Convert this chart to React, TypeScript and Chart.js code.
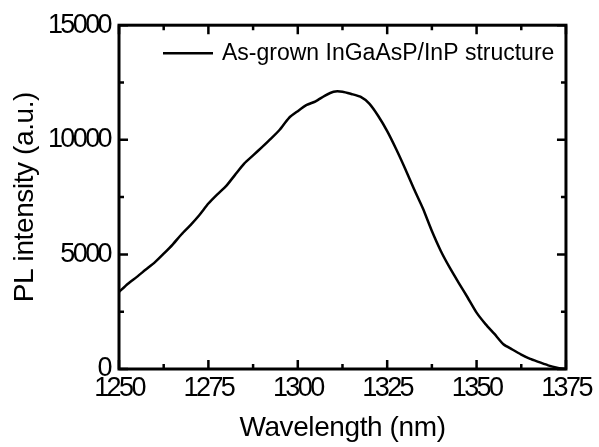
import React, { useEffect, useRef } from "react";
import { Chart, registerables } from "chart.js";

Chart.register(...registerables);

const wavelengths = [
  1250, 1252.5, 1255, 1257.5, 1260, 1262.5, 1265, 1267.5, 1270, 1272.5,
  1275, 1277.5, 1280, 1282.5, 1285, 1287.5, 1290, 1292.5, 1295, 1297.5,
  1300, 1302.5, 1305, 1307.5, 1310, 1312.5, 1315, 1317.5, 1320, 1322.5,
  1325, 1327.5, 1330, 1332.5, 1335, 1337.5, 1340, 1342.5, 1345, 1347.5,
  1350, 1352.5, 1355, 1357.5, 1360, 1362.5, 1365, 1367.5, 1370, 1372.5, 1375,
];
const intensities = [
  3360, 3720, 4020, 4340, 4650, 5030, 5430, 5880, 6280, 6720,
  7220, 7620, 7990, 8480, 8960, 9320, 9680, 10050, 10450, 10950,
  11250, 11520, 11680, 11920, 12100, 12100, 12000, 11880, 11580, 11040,
  10380, 9600, 8750, 7850, 7000, 6020, 5150, 4420, 3760, 3120,
  2460, 1960, 1530, 1080, 850, 630, 440, 300, 160, 60, 0,
];
const seriesLabel = "As-grown InGaAsP/InP structure";
const xTitle = "Wavelength (nm)";
const yTitle = "PL intensity (a.u.)";
const xMin = 1250, xMax = 1375, xStep = 25;
const yMin = 0, yMax = 15000, yStep = 5000;

const FONT = "Arial, 'Liberation Sans', Helvetica, sans-serif";

const framePlugin = {
  id: "frame",
  beforeDraw(chart: any) {
    chart.ctx.letterSpacing = "-0.4px";
  },
  afterDatasetsDraw(chart: any) {
    chart.ctx.letterSpacing = "-2.6px";
  },
  afterDraw(chart: any) {
    const ctx = chart.ctx;
    ctx.save();
    ctx.letterSpacing = "0px";
    const { left, right, top, bottom } = chart.chartArea;
    const xs = chart.scales.x;
    const ys = chart.scales.y;
    ctx.strokeStyle = "#000";
    ctx.lineWidth = 2.5;
    ctx.lineCap = "butt";
    ctx.beginPath();
    for (let v = xMin; v <= xMax + 1e-6; v += xStep / 2) {
      const isMajor = Math.abs((v - xMin) % xStep) < 1e-6;
      const len = isMajor ? 9 : 5;
      const px = xs.getPixelForValue(v);
      ctx.moveTo(px, bottom);
      ctx.lineTo(px, bottom - len);
      ctx.moveTo(px, top);
      ctx.lineTo(px, top + len);
    }
    for (let v = yMin; v <= yMax + 1e-6; v += yStep / 2) {
      const isMajor = Math.abs((v - yMin) % yStep) < 1e-6;
      const len = isMajor ? 9 : 5;
      const py = ys.getPixelForValue(v);
      ctx.moveTo(left, py);
      ctx.lineTo(left + len, py);
      ctx.moveTo(right, py);
      ctx.lineTo(right - len, py);
    }
    ctx.stroke();
    ctx.lineWidth = 3;
    ctx.strokeRect(left, top, right - left, bottom - top);

    const ly = top + 28;
    const lx = left + 44;
    ctx.lineWidth = 2.5;
    ctx.beginPath();
    ctx.moveTo(lx, ly);
    ctx.lineTo(lx + 50, ly);
    ctx.stroke();
    ctx.fillStyle = "#000";
    ctx.font = `23px ${FONT}`;
    ctx.textBaseline = "middle";
    ctx.textAlign = "left";
    ctx.fillText(seriesLabel, lx + 59, ly);
    ctx.restore();
  },
};

export default function App() {
  const ref = useRef<HTMLCanvasElement>(null);
  useEffect(() => {
    if (!ref.current) return;
    const chart = new Chart(ref.current, {
      type: "line",
      data: {
        datasets: [
          {
            label: seriesLabel,
            data: wavelengths.map((w, i) => ({ x: w, y: intensities[i] })),
            borderColor: "#000",
            borderWidth: 2.5,
            pointRadius: 0,
            tension: 0.2,
            fill: false,
          },
        ],
      },
      options: {
        responsive: false,
        animation: false,
        layout: { padding: { top: 24, right: 27, left: 0, bottom: 0 } },
        plugins: { legend: { display: false }, tooltip: { enabled: false } },
        scales: {
          x: {
            type: "linear",
            min: xMin,
            max: xMax,
            grid: { display: false, drawTicks: false },
            border: { display: false },
            ticks: {
              stepSize: xStep,
              padding: 3,
              color: "#000",
              z: 1,
              maxRotation: 0,
              font: { family: FONT, size: 27 },
              callback: (v: any) => String(v),
            },
            title: {
              display: true,
              text: xTitle,
              color: "#000",
              font: { family: FONT, size: 28 },
              padding: { top: 0, bottom: 2 },
            },
            afterFit: (s: any) => {
              s.height = 78;
            },
          },
          y: {
            type: "linear",
            min: yMin,
            max: yMax,
            grid: { display: false, drawTicks: false },
            border: { display: false },
            ticks: {
              stepSize: yStep,
              padding: 9,
              color: "#000",
              z: 1,
              font: { family: FONT, size: 27 },
              callback: (v: any) => String(v),
            },
            title: {
              display: true,
              text: yTitle,
              color: "#000",
              font: { family: FONT, size: 28 },
              padding: { top: 8, bottom: 0 },
            },
            afterFit: (s: any) => {
              s.width = 119;
            },
          },
        },
      },
      plugins: [framePlugin],
    });
    return () => chart.destroy();
  }, []);
  return (
    <div style={{ position: "absolute", left: 0, top: 0, width: 599, height: 447, background: "#fff" }}>
      <canvas ref={ref} width={599} height={447} />
    </div>
  );
}
